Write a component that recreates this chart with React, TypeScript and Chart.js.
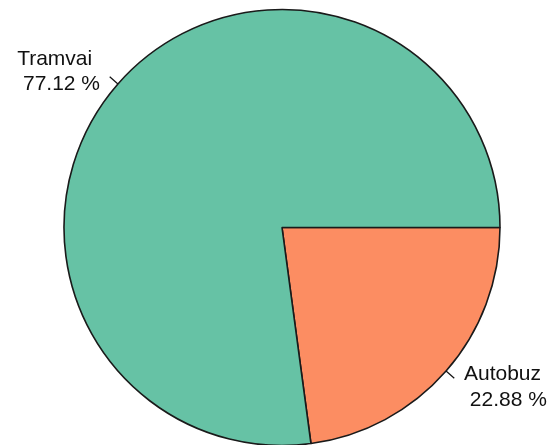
import React, { useEffect, useRef } from "react";
import { Chart, registerables } from "chart.js";

Chart.register(...registerables);

const categories = ["Autobuz", "Tramvai"];
const shares = [22.88, 77.12];
const shareLabels = ["22.88 %", "77.12 %"];
const colors = ["#fc8d62", "#66c2a5"];

const labelPlugin = {
  id: "pieLabels",
  afterDatasetsDraw(chart: any) {
    const ctx = chart.ctx;
    const meta = chart.getDatasetMeta(0);
    ctx.save();
    ctx.font = "21px 'Liberation Sans', Arial, sans-serif";
    ctx.fillStyle = "#111";
    ctx.strokeStyle = "#111";
    ctx.lineWidth = 1.2;
    ctx.textBaseline = "alphabetic";
    meta.data.forEach((arc: any, i: number) => {
      const mid = (arc.startAngle + arc.endAngle) / 2;
      const r = arc.outerRadius;
      const c = Math.cos(mid);
      const s = Math.sin(mid);
      ctx.beginPath();
      ctx.moveTo(arc.x + c * r, arc.y + s * r);
      ctx.lineTo(arc.x + c * r * 1.05, arc.y + s * r * 1.05);
      ctx.stroke();
      const lx = arc.x + c * r * 1.1;
      const ly = arc.y + s * r * 1.1;
      const line1 = categories[i];
      const line2 = " " + shareLabels[i];
      const w = Math.max(ctx.measureText(line1).width, ctx.measureText(line2).width);
      const left = c >= 0 ? lx + 1.5 : lx - 1.5 - w;
      ctx.textAlign = "left";
      ctx.fillText(line1, left, ly - 5);
      ctx.fillText(line2, left, ly + 20.5);
    });
    ctx.restore();
  },
};

export default function App() {
  const ref = useRef<HTMLCanvasElement>(null);
  useEffect(() => {
    document.body.style.margin = "0";
    document.body.style.background = "#ffffff";
    const chart = new Chart(ref.current!, {
      type: "pie",
      data: {
        labels: categories,
        datasets: [
          {
            data: shares,
            backgroundColor: colors,
            borderColor: "#1a1a1a",
            borderWidth: 1.6,
            radius: 218,
          } as any,
        ],
      },
      options: {
        responsive: false,
        animation: false,
        rotation: 90,
        layout: { padding: { left: 64, right: 49, top: 10, bottom: -1 } },
        plugins: {
          legend: { display: false },
          tooltip: { enabled: false },
        },
      },
      plugins: [labelPlugin],
    });
    return () => chart.destroy();
  }, []);
  return (
    <div style={{ width: 549, height: 445, background: "#fff" }}>
      <canvas ref={ref} width={549} height={445} style={{ display: "block" }} />
    </div>
  );
}
